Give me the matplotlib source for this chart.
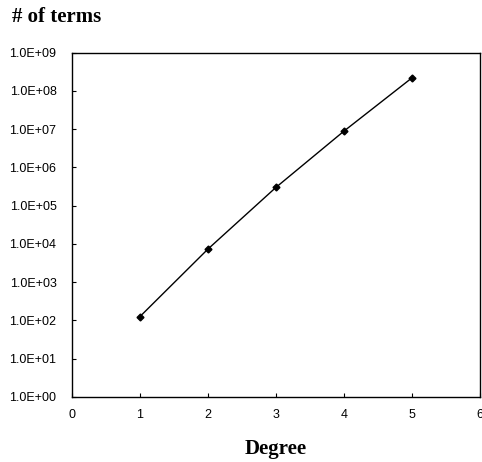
import matplotlib
matplotlib.use("Agg")
import matplotlib.pyplot as plt
from matplotlib.ticker import FuncFormatter, FixedLocator, NullLocator

# data
degree = [1, 2, 3, 4, 5]
num_terms = [125, 7300, 3.0e5, 8.9e6, 2.2e8]
x_ticks = [0, 1, 2, 3, 4, 5, 6]
y_ticks = [1e0, 1e1, 1e2, 1e3, 1e4, 1e5, 1e6, 1e7, 1e8, 1e9]

fig = plt.figure(figsize=(4.82, 4.62), dpi=100)
ax = fig.add_axes([0.149, 0.141, 0.847, 0.745])

ax.plot(degree, num_terms, color="black", linewidth=1.0,
        marker="D", markersize=3.5, markerfacecolor="black")

ax.set_yscale("log")
ax.set_ylim(1e0, 1e9)
ax.set_xlim(0, 6)
ax.xaxis.set_major_locator(FixedLocator(x_ticks))
ax.yaxis.set_major_locator(FixedLocator(y_ticks))
ax.yaxis.set_minor_locator(NullLocator())
ax.yaxis.set_major_formatter(FuncFormatter(lambda v, p: f"{v:.1E}"))

ax.tick_params(axis="both", direction="in", length=3, width=0.8,
               labelsize=9, colors="black")
ax.tick_params(axis="y", pad=11)
ax.tick_params(axis="x", pad=9)
for lab in ax.get_xticklabels() + ax.get_yticklabels():
    lab.set_fontfamily("Liberation Sans")

for s in ax.spines.values():
    s.set_linewidth(1.0)
    s.set_color("black")

ax.set_xlabel("Degree", fontfamily="Liberation Serif", fontweight="bold",
              fontsize=15, labelpad=13)
fig.text(0.025, 0.963, "# of terms", fontfamily="Liberation Serif",
         fontweight="bold", fontsize=15, ha="left", va="center")

fig.savefig("out.png", dpi=100)
